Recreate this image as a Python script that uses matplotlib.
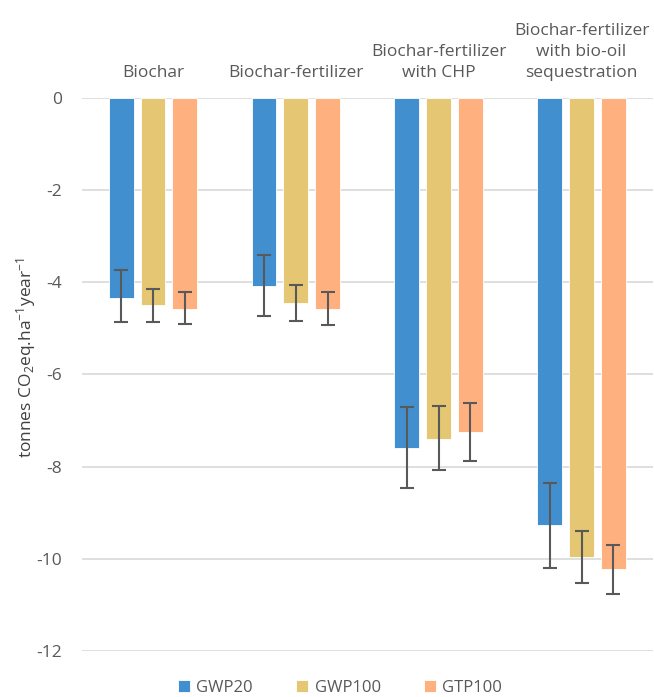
import numpy as np
import matplotlib
matplotlib.use('Agg')
import matplotlib.pyplot as plt

plt.rcParams['font.family'] = ['Open Sans', 'DejaVu Sans']
plt.rcParams['mathtext.default'] = 'regular'

# Escenarios y métricas
scenarios = ['Biochar', 'Biochar-fertilizer', 'Biochar-fertilizer\nwith CHP',
             'Biochar-fertilizer\nwith bio-oil\nsequestration']
metrics = ['GWP20', 'GWP100', 'GTP100']
colors = ['#428FCF', '#E5C672', '#FFB07F']

# Valores medios (tonnes CO2eq/ha/año)
gwp20 = [-4.33, -4.07, -7.59, -9.26]
gwp100 = [-4.50, -4.44, -7.39, -9.96]
gtp100 = [-4.57, -4.57, -7.24, -10.22]

# Extremos de las barras de error (superior, inferior)
gwp20_hi = [-3.74, -3.40, -6.71, -8.35]
gwp20_lo = [-4.86, -4.74, -8.46, -10.19]
gwp100_hi = [-4.14, -4.06, -6.69, -9.40]
gwp100_lo = [-4.86, -4.83, -8.07, -10.53]
gtp100_hi = [-4.22, -4.21, -6.62, -9.70]
gtp100_lo = [-4.91, -4.92, -7.88, -10.76]

series = [(gwp20, gwp20_hi, gwp20_lo),
          (gwp100, gwp100_hi, gwp100_lo),
          (gtp100, gtp100_hi, gtp100_lo)]

fig = plt.figure(figsize=(6.54, 6.97), dpi=100)
ax = fig.add_axes([81.5 / 654, 1 - 651 / 697, (653 - 81.5) / 654, (651 - 98) / 697])

x = np.arange(len(scenarios))
width = 0.174
step = 0.2226
for i, (vals, hi, lo) in enumerate(series):
    vals = np.array(vals)
    yerr = np.abs(np.array([vals - np.array(lo), np.array(hi) - vals]))
    ax.bar(x + (i - 1) * step, vals, width, color=colors[i], label=metrics[i],
           edgecolor='white', linewidth=0.6, zorder=2)
    ax.errorbar(x + (i - 1) * step, vals, yerr=yerr, fmt='none', ecolor='#595959',
                elinewidth=1.5, capsize=5, capthick=1.5, zorder=3)

ax.set_xlim(-0.5, len(scenarios) - 0.5)
ax.set_ylim(-12, 0)
ax.set_yticks(np.arange(-12, 1, 2))
ax.set_yticklabels([str(v) for v in range(-12, 1, 2)])
ax.yaxis.grid(True, color='#D9D9D9', linewidth=1.2, zorder=0)
ax.set_axisbelow(True)

ax.xaxis.tick_top()
ax.set_xticks(x)
ax.set_xticklabels(scenarios, fontsize=12.5, color='#595959', linespacing=1.45)
ax.tick_params(axis='x', length=0, pad=12)
ax.tick_params(axis='y', length=0, labelsize=12.5, labelcolor='#595959', pad=14)
for s in ax.spines.values():
    s.set_visible(False)

ax.set_ylabel('tonnes CO$_2$eq.ha$^{-1}$year$^{-1}$', fontsize=12.5, color='#404040')
ax.yaxis.set_label_coords(-43 / 571.5, 0.53)

fig.legend(*ax.get_legend_handles_labels(), loc='center',
           bbox_to_anchor=(0.52, 1 - 688 / 697), ncol=3, frameon=False,
           fontsize=12, handlelength=0.7, handleheight=0.7, columnspacing=2.6,
           handletextpad=0.4, labelcolor='#595959')

plt.savefig('out.png', dpi=100)
